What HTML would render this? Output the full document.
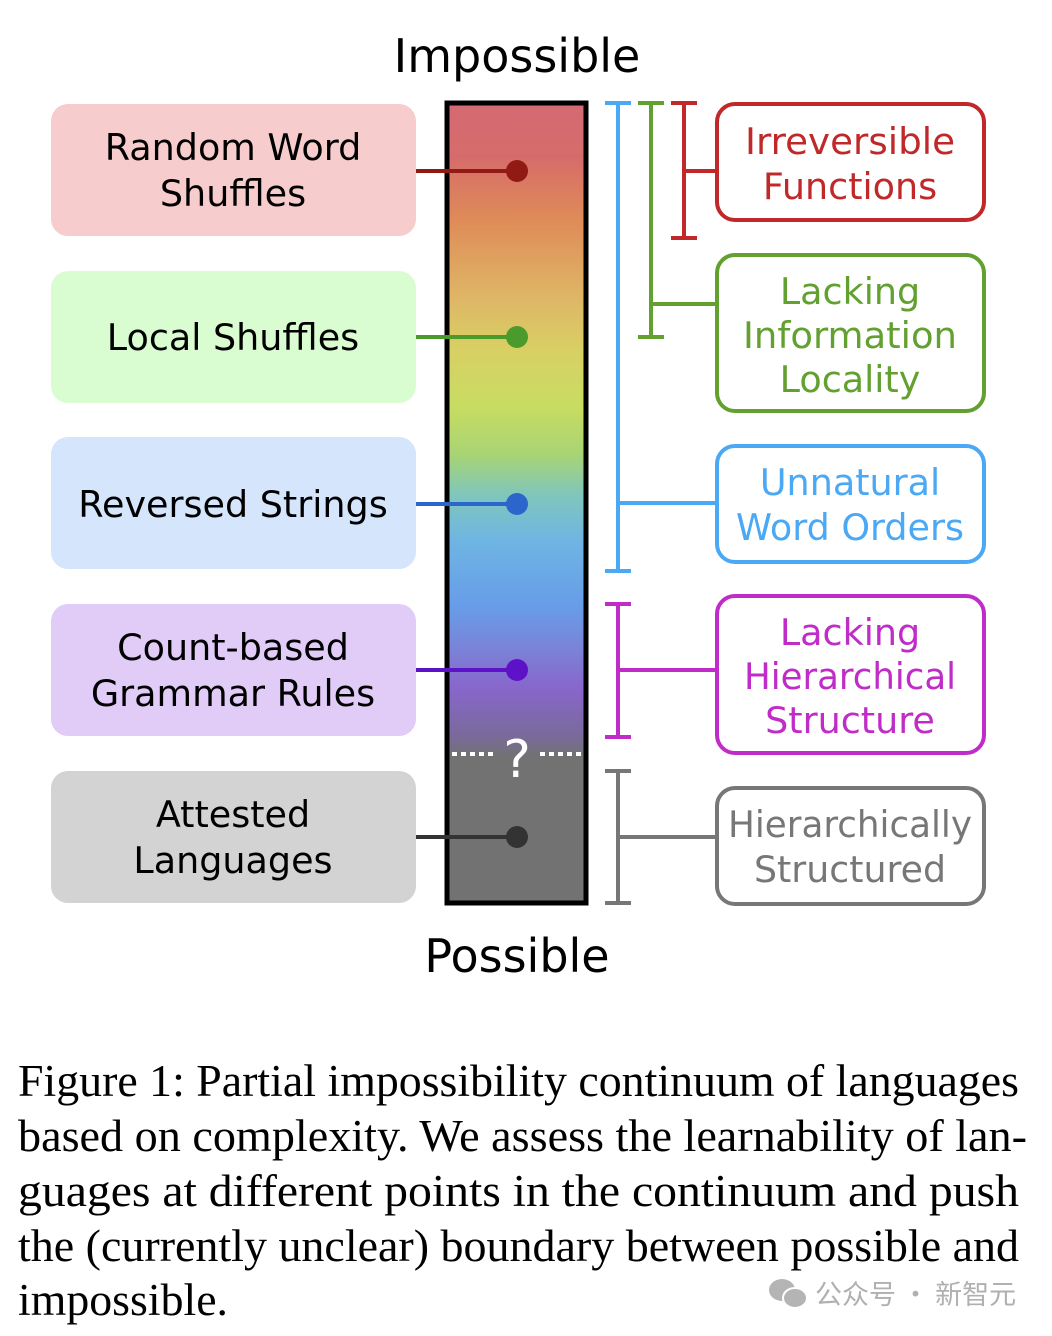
<!DOCTYPE html>
<html><head><meta charset="utf-8"><style>
html,body{margin:0;padding:0;background:#fff;width:1052px;height:1336px;overflow:hidden}
svg{display:block}
.d{font-family:"DejaVu Sans","Liberation Sans",sans-serif;font-size:36.5px;text-anchor:middle}
.c{font-family:"Liberation Serif",serif;font-size:45px;fill:#000}
</style></head><body>
<svg width="1052" height="1336" viewBox="0 0 1052 1336" xmlns="http://www.w3.org/2000/svg">
<defs>
<linearGradient id="g" x1="0" y1="101" x2="0" y2="905" gradientUnits="userSpaceOnUse">
<stop offset="0" stop-color="#d46a74"/>
<stop offset="0.07" stop-color="#d66c6a"/>
<stop offset="0.15" stop-color="#df8c58"/>
<stop offset="0.24" stop-color="#dfb466"/>
<stop offset="0.31" stop-color="#d8d064"/>
<stop offset="0.38" stop-color="#c8dc62"/>
<stop offset="0.44" stop-color="#a8d474"/>
<stop offset="0.49" stop-color="#80c6bc"/>
<stop offset="0.55" stop-color="#6eb4e4"/>
<stop offset="0.63" stop-color="#689ce8"/>
<stop offset="0.68" stop-color="#7a84d8"/>
<stop offset="0.73" stop-color="#8866cc"/>
<stop offset="0.79" stop-color="#7a6a9a"/>
<stop offset="0.815" stop-color="#727272"/>
<stop offset="1" stop-color="#727272"/>
</linearGradient>
</defs>
<text x="517" y="72" class="d" style="font-size:46px" fill="#000">Impossible</text>
<text x="517" y="972" class="d" style="font-size:46px" fill="#000">Possible</text>

<rect x="51" y="104" width="365" height="132" rx="17" fill="#f7cccc"/>
<rect x="51" y="271" width="365" height="132" rx="17" fill="#d9fdd0"/>
<rect x="51" y="437" width="365" height="132" rx="17" fill="#d5e5fb"/>
<rect x="51" y="604" width="365" height="132" rx="17" fill="#e1ccf8"/>
<rect x="51" y="771" width="365" height="132" rx="17" fill="#d3d3d3"/>
<g class="d" fill="#000">
<text x="233" y="160">Random Word</text><text x="233" y="206">Shuffles</text>
<text x="233" y="350">Local Shuffles</text>
<text x="233" y="517">Reversed Strings</text>
<text x="233" y="660">Count-based</text><text x="233" y="706">Grammar Rules</text>
<text x="233" y="827">Attested</text><text x="233" y="873">Languages</text>
</g>

<rect x="447" y="103" width="139" height="800" fill="url(#g)" stroke="#000" stroke-width="5"/>
<line x1="452" y1="754" x2="497" y2="754" stroke="#fff" stroke-width="4" stroke-dasharray="5,4"/>
<line x1="540" y1="754" x2="584" y2="754" stroke="#fff" stroke-width="4" stroke-dasharray="5,4"/>
<text x="517" y="777" class="d" style="font-size:52px" fill="#fff">?</text>

<g stroke-width="4">
<line x1="416" y1="171" x2="517" y2="171" stroke="#921a14"/><circle cx="517" cy="171" r="11" fill="#921a14"/>
<line x1="416" y1="337" x2="517" y2="337" stroke="#4a9a2c"/><circle cx="517" cy="337" r="11" fill="#4a9a2c"/>
<line x1="416" y1="504" x2="517" y2="504" stroke="#2c66cc"/><circle cx="517" cy="504" r="11" fill="#2c66cc"/>
<line x1="416" y1="670" x2="517" y2="670" stroke="#5e12c8"/><circle cx="517" cy="670" r="11" fill="#5e12c8"/>
<line x1="416" y1="837" x2="517" y2="837" stroke="#333"/><circle cx="517" cy="837" r="11" fill="#333"/>
</g>

<g stroke-width="4" fill="none">
<g stroke="#4aa8f4"><path d="M605 103H631M618 103V571M605 571H631M618 503H717"/></g>
<g stroke="#62a030"><path d="M638 103H664M651 103V337M638 337H664M651 304H717"/></g>
<g stroke="#c0282a"><path d="M671 103H697M684 103V238M671 238H697M684 171H717"/></g>
<g stroke="#c02cc8"><path d="M605 604H631M618 604V737M605 737H631M618 670H717"/></g>
<g stroke="#777"><path d="M605 771H631M618 771V903M605 903H631M618 837H717"/></g>
</g>

<g fill="#fff" stroke-width="4">
<rect x="717" y="104" width="267" height="116" rx="18" stroke="#c0282a"/>
<rect x="717" y="255" width="267" height="156" rx="18" stroke="#62a030"/>
<rect x="717" y="446" width="267" height="116" rx="18" stroke="#4aa8f4"/>
<rect x="717" y="596" width="267" height="157" rx="18" stroke="#c02cc8"/>
<rect x="717" y="788" width="267" height="116" rx="18" stroke="#777"/>
</g>
<g class="d">
<text x="850" y="154" fill="#c0282a" textLength="210" lengthAdjust="spacingAndGlyphs">Irreversible</text><text x="850" y="199" fill="#c0282a">Functions</text>
<text x="850" y="304" fill="#62a030">Lacking</text><text x="850" y="348" fill="#62a030" textLength="214" lengthAdjust="spacingAndGlyphs">Information</text><text x="850" y="392" fill="#62a030">Locality</text>
<text x="850" y="495" fill="#4aa8f4">Unnatural</text><text x="850" y="540" fill="#4aa8f4" textLength="228" lengthAdjust="spacingAndGlyphs">Word Orders</text>
<text x="850" y="645" fill="#c02cc8">Lacking</text><text x="850" y="689" fill="#c02cc8" textLength="212" lengthAdjust="spacingAndGlyphs">Hierarchical</text><text x="850" y="733" fill="#c02cc8">Structure</text>
<text x="850" y="837" fill="#777" textLength="244" lengthAdjust="spacingAndGlyphs">Hierarchically</text><text x="850" y="882" fill="#777" textLength="192" lengthAdjust="spacingAndGlyphs">Structured</text>
</g>

<g class="c">
<text x="18" y="1096" textLength="1001" lengthAdjust="spacingAndGlyphs">Figure 1: Partial impossibility continuum of languages</text>
<text x="18" y="1151" textLength="1009" lengthAdjust="spacingAndGlyphs">based on complexity. We assess the learnability of lan-</text>
<text x="18" y="1206" textLength="1001" lengthAdjust="spacingAndGlyphs">guages at different points in the continuum and push</text>
<text x="18" y="1261" textLength="1001" lengthAdjust="spacingAndGlyphs">the (currently unclear) boundary between possible and</text>
<text x="18" y="1315" textLength="210" lengthAdjust="spacingAndGlyphs">impossible.</text>
</g>
<g fill="#b4b4b4">
<ellipse cx="782" cy="1290" rx="13" ry="11"/>
<ellipse cx="795" cy="1298" rx="12" ry="10" stroke="#fff" stroke-width="2"/>
</g>
<text x="815" y="1304" style="font-family:'Noto Sans CJK SC',sans-serif;font-size:27px" fill="#b0b0b0">公众号 · 新智元</text>
</svg>
</body></html>
